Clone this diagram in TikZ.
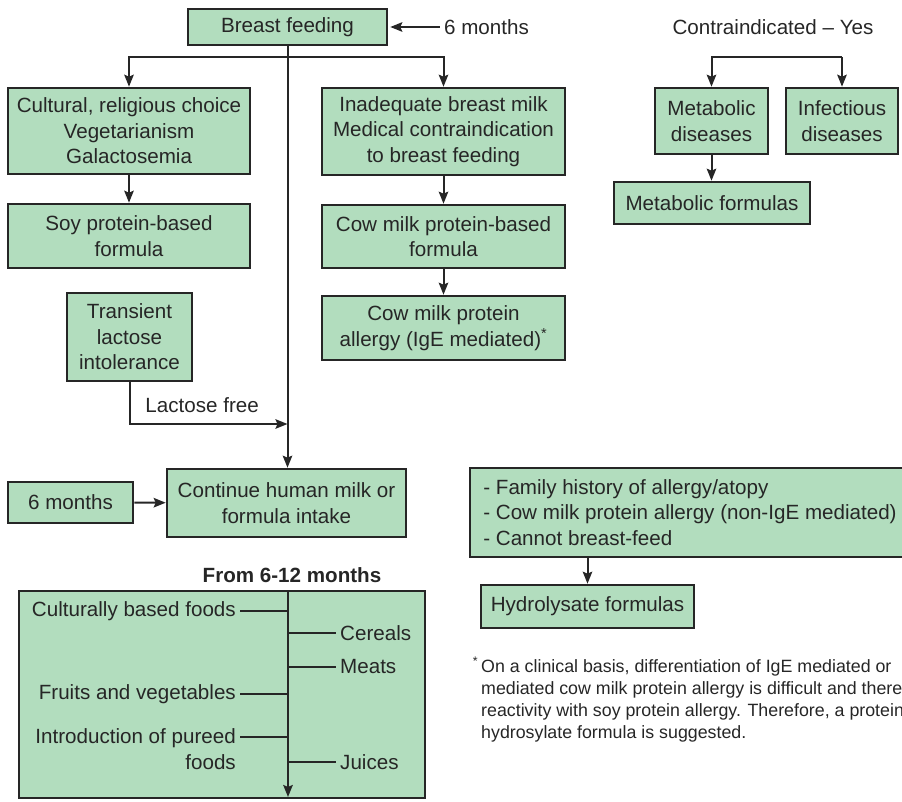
\documentclass[tikz,border=0pt]{standalone}
\usepackage{fontspec}
\setmainfont{Liberation Sans}
\usepackage{tikz}
\usetikzlibrary{arrows.meta,positioning}
\definecolor{feedgreen}{RGB}{178,221,190}
\definecolor{feedink}{RGB}{38,38,38}
\newcommand{\chartfont}{\fontsize{20.6}{25.5}\selectfont}
\newcommand{\notefont}{\fontsize{17.8}{22}\selectfont}

\begin{document}
\begin{tikzpicture}[x=1pt,y=-1pt,>={Stealth[length=12pt,width=9.5pt,inset=2pt]},
 box/.style={draw=feedink,fill=feedgreen,line width=2.6pt,align=center,inner sep=0pt,text=feedink,font=\chartfont},
 link/.style={draw=feedink,line width=2pt},
 item/.style={inner sep=4pt,text=feedink,font=\chartfont}]
 \useasboundingbox (0,0) rectangle (902,802);
 \clip (0,0) rectangle (902,802);
 % breast feeding and its two branches
 \node[box,minimum width=199pt,minimum height=36pt] (feed) at (287.5,27) {Breast feeding};
 \node[item] (sixtop) at (486.5,27) {6 months};
 \node[box,minimum width=242pt,minimum height=86pt] (cult) at (129,131)
  {Cultural, religious choice\\Vegetarianism\\Galactosemia};
 \node[box,minimum width=242pt,minimum height=64pt] (soy) at (129,236) {Soy protein-based\\formula};
 \node[box,minimum width=243pt,minimum height=87pt] (inad) at (443.5,131.5)
  {Inadequate breast milk\\Medical contraindication\\to breast feeding};
 \node[box,minimum width=243pt,minimum height=63pt] (cowf) at (443.5,236.5) {Cow milk protein-based\\formula};
 \node[box,minimum width=243pt,minimum height=64pt] (cowa) at (443.5,328)
  {Cow milk protein\\allergy (IgE mediated)\textsuperscript{*}};
 \node[box,minimum width=125pt,minimum height=88pt] (trans) at (129.5,337) {Transient\\lactose\\intolerance};
 \node[box,minimum width=239pt,minimum height=68pt] (cont) at (286.5,503) {Continue human milk or\\formula intake};
 \node[box,minimum width=125pt,minimum height=41pt] (six) at (70.5,502.5) {6 months};
 \coordinate (split) at (287.5,57);
 \coordinate (lacjoin) at (287.5,424);
 \draw[link,->] (feed.south) -- (feed.south |- cont.north);
 \draw[link,->] (split) -| (cult);
 \draw[link,->] (split) -| (inad);
 \draw[link,->] (cult) -- (soy);
 \draw[link,->] (inad) -- (cowf);
 \draw[link,->] (cowf) -- (cowa);
 \draw[link,->] (trans) |- (lacjoin)
  node[item,pos=0.73,above=6pt] (lacfree) {Lactose free};
 \draw[link,->] (six) -- (cont);
 \draw[link,->,shorten >=2pt] (sixtop) -- (feed);
 % contraindicated
 \node[item] (contra) at (773,27) {Contraindicated -- Yes};
 \node[box,minimum width=113pt,minimum height=66pt] (metab) at (711.5,121) {Metabolic\\diseases};
 \node[box,minimum width=112pt,minimum height=66pt] (infec) at (842,121) {Infectious\\diseases};
 \node[box,minimum width=196pt,minimum height=42pt] (metf) at (712,203) {Metabolic formulas};
 \coordinate (cjoin) at (842,57);
 \draw[link,->] (cjoin) -| (metab);
 \draw[link,->] (cjoin) -- (infec);
 \draw[link,->] (metab.south) -- (metab.south |- metf.north);
 % allergy risk
 \node[box,minimum width=440pt,minimum height=89pt,align=left] (fam) at (690,512.5)
  {- Family history of allergy/atopy\\- Cow milk protein allergy (non-IgE mediated)\\- Cannot breast-feed};
 \node[box,minimum width=213pt,minimum height=43pt] (hyd) at (587.5,606.5) {Hydrolysate formulas};
 \draw[link,->] (hyd.north |- fam.south) -- (hyd.north);
 \node[anchor=north west,inner sep=0pt,align=left,text=feedink,font=\notefont] (note) at (481,657)
  {\llap{\textsuperscript{*}\,}On a clinical basis, differentiation of IgE mediated or\\
   mediated cow milk protein allergy is difficult and there\\
   reactivity with soy protein allergy. Therefore, a protein\\
   hydrosylate formula is suggested.};
 % 6-12 months
 \node[font=\chartfont\bfseries,text=feedink] (stage) at (292,575) {From 6-12 months};
 \node[box,minimum width=406pt,minimum height=207pt] (solids) at (222,694.5) {};
 \coordinate (ftop) at (288,591);
 \coordinate (fbot) at (288,797);
 \draw[link,->] (ftop) -- (fbot);
 \node[item,anchor=east] (cbf) at (240,611) {Culturally based foods};
 \node[item,anchor=east] (fav) at (240,694) {Fruits and vegetables};
 \node[item,anchor=east,align=right] (pur) at (240,749) {Introduction of pureed\\foods};
 \node[item,anchor=west] (cer) at (336,633) {Cereals};
 \node[item,anchor=west] (meat) at (336,667) {Meats};
 \node[item,anchor=west] (juice) at (336,762) {Juices};
 \coordinate (purtick) at ([yshift=12pt]pur.east);
 \draw[link] (cbf.east) -- (cbf.east -| ftop);
 \draw[link] (fav.east) -- (fav.east -| ftop);
 \draw[link] (purtick) -- (purtick -| ftop);
 \draw[link] (cer.west -| ftop) -- (cer.west);
 \draw[link] (meat.west -| ftop) -- (meat.west);
 \draw[link] (juice.west -| ftop) -- (juice.west);
\end{tikzpicture}
\end{document}
